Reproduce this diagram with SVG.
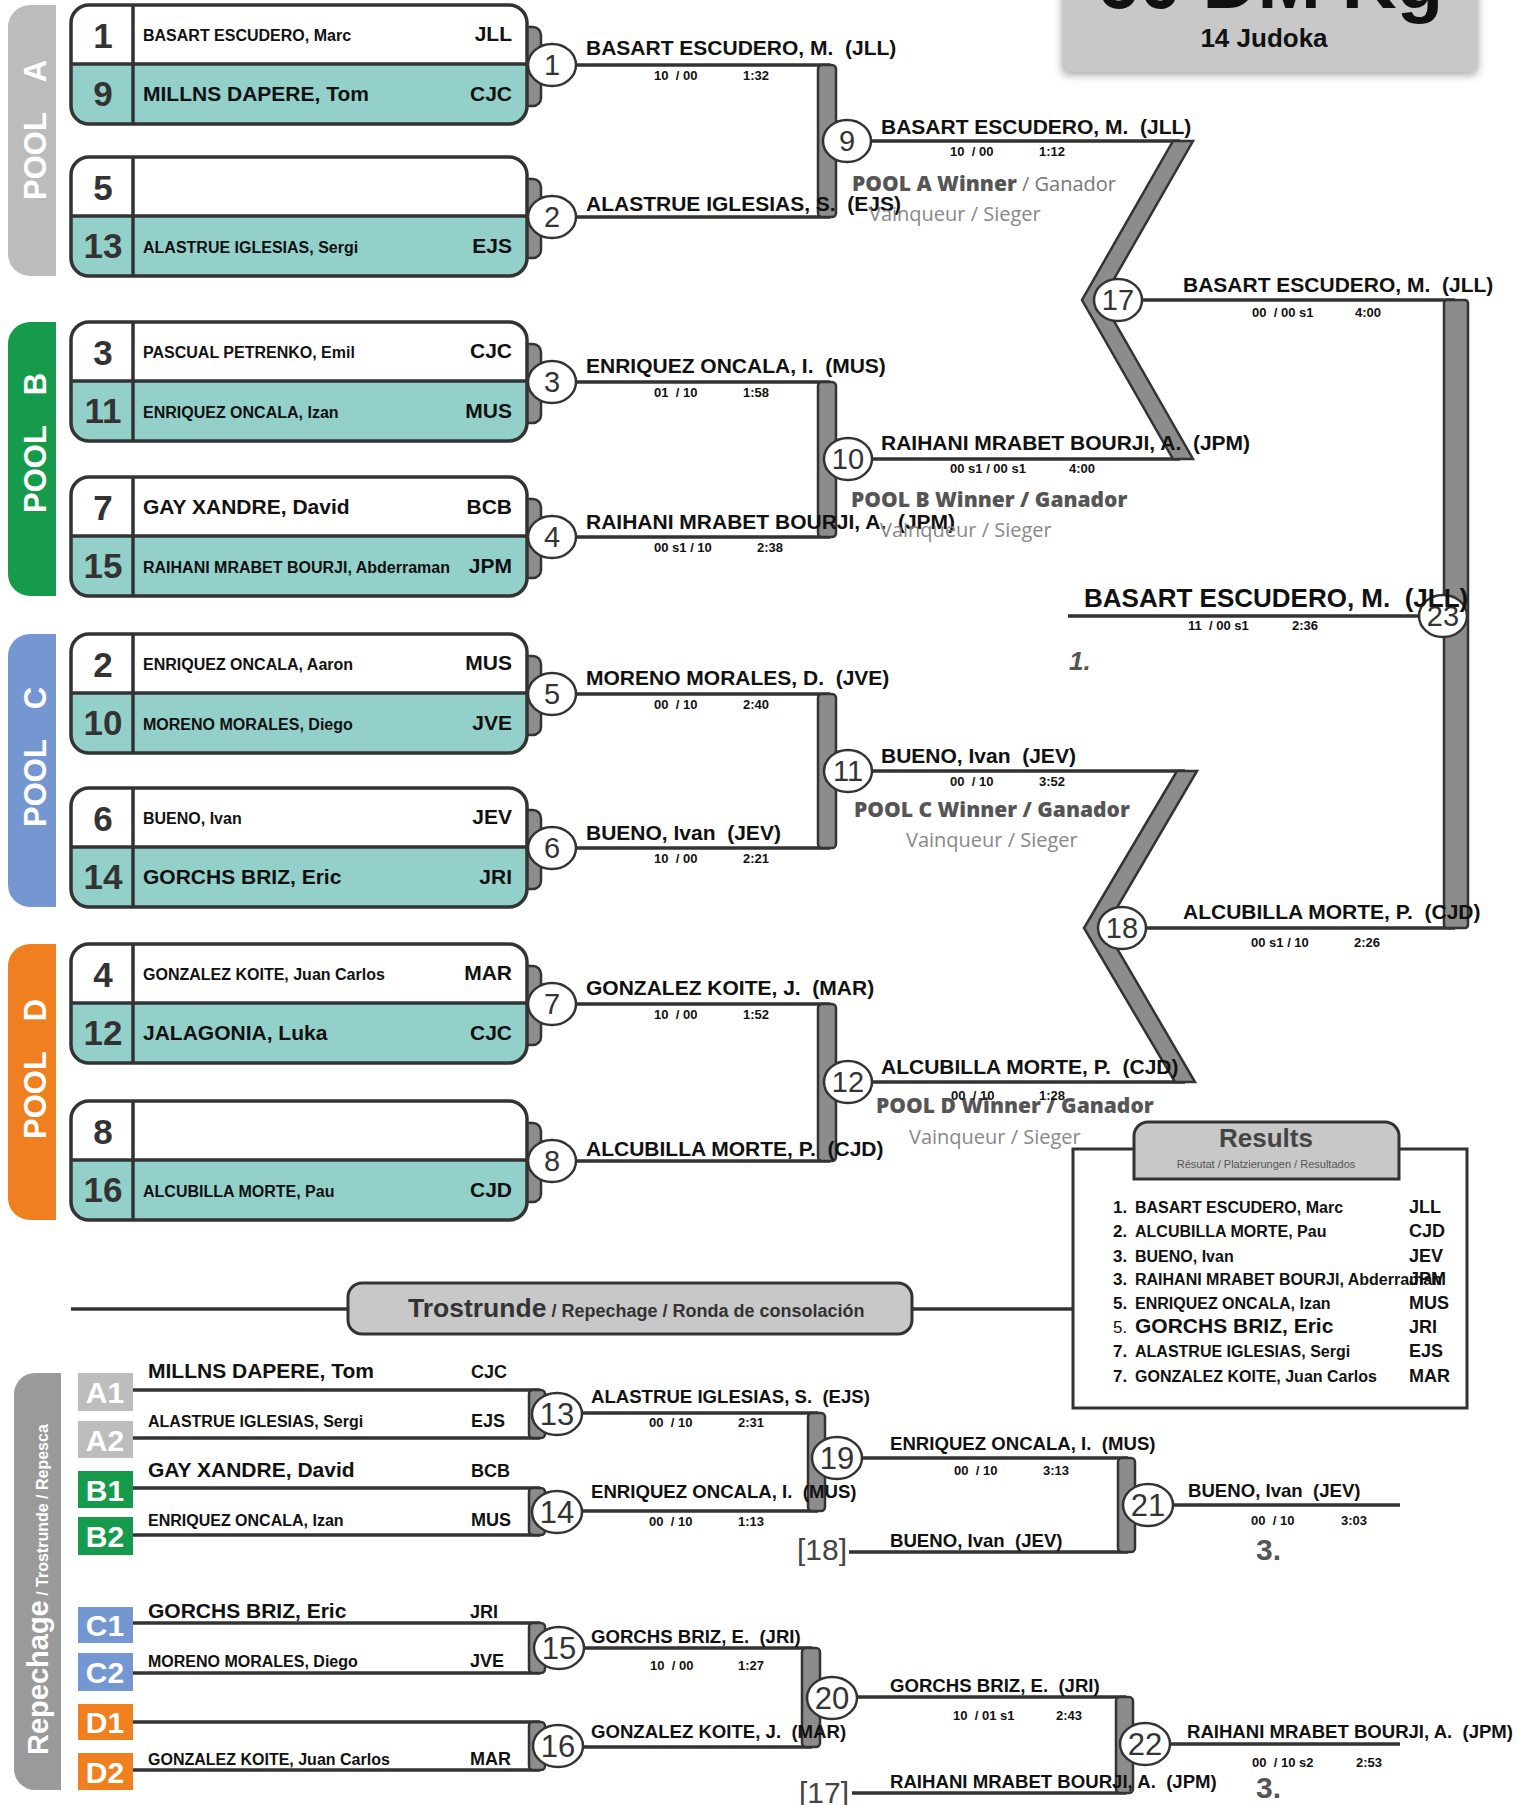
<svg xmlns="http://www.w3.org/2000/svg" width="1519" height="1805" viewBox="0 0 1519 1805" xml:space="preserve">
<defs>
<style>
text{font-family:'Liberation Sans',Arial,Helvetica,sans-serif;white-space:pre;fill:#111}
.seed{font-size:35px;font-weight:700;fill:#333;text-anchor:middle}
.ns{font-size:16px;font-weight:700}
.nl{font-size:21px;font-weight:700}
.cl{font-size:21px;font-weight:700;text-anchor:end}
.w{font-size:21px;font-weight:700}
.wr{font-size:18.6px;font-weight:700}
.sc{font-size:13px;font-weight:700}
.cn{font-size:29px;fill:#333;text-anchor:middle}
.cnr{font-size:31px;fill:#333;text-anchor:middle}
.cir{fill:#fff;stroke:#333;stroke-width:2.5}
.bar{fill:#8c8c8c;stroke:#333;stroke-width:2.5}
.ln{stroke:#333;stroke-width:3.5;fill:none}
.bx{fill:none;stroke:#333;stroke-width:3.5}
.pw{font-family:'Open Sans',sans-serif;font-size:21px;font-weight:800;fill:#555}
.pg{font-family:'Open Sans',sans-serif;font-size:20px;font-weight:400;fill:#777}
.pv{font-family:'Open Sans',sans-serif;font-size:20px;font-weight:400;fill:#888}
.pl{font-size:31px;font-weight:700;fill:#fff}
.lab{font-size:30px;font-weight:700;fill:#fff;text-anchor:middle}
.rn{font-size:16px;font-weight:700}
.rk{font-size:17px;font-weight:700}
.rcl{font-size:18px;font-weight:700}
.plc{font-size:30px;font-weight:700;fill:#555}
.brk{font-size:30px;fill:#444}
</style>
<g id="pbox">
<path class="bar" d="M450,22 H462 A8,8 0 0 1 470,30 V93 A8,8 0 0 1 462,101 H450 Z"/>
<rect x="0" y="0" width="456" height="119" rx="18" fill="#fff"/>
<path d="M0,59 H456 V101 A18,18 0 0 1 438,119 H18 A18,18 0 0 1 0,101 Z" fill="#94d0ca"/>
<rect class="bx" x="0" y="0" width="456" height="119" rx="18"/>
<path class="bx" d="M0,59 H456 M62,0 V119"/>
</g>
<filter id="sh" x="-10%" y="-20%" width="120%" height="150%"><feDropShadow dx="0" dy="3" stdDeviation="4" flood-color="#000" flood-opacity="0.35"/></filter>
</defs>
<rect width="1519" height="1805" fill="#fff"/>

<g id="title">
<rect x="1062" y="-20" width="416" height="92" rx="6" fill="#c8c8c8" filter="url(#sh)"/>
<text x="1270" y="8" style="font-size:76px;font-weight:700;text-anchor:middle">60 DM Kg</text>
<text x="1264" y="47" style="font-size:26px;font-weight:700;text-anchor:middle">14 Judoka</text>
</g>

<g id="pool-labels">
<path fill="#bcbcbc" d="M56,5 H30 A22,22 0 0 0 8,27 V254 A22,22 0 0 0 30,276 H56 Z"/>
<text class="pl" transform="translate(46,200) rotate(-90)">POOL<tspan dx="30">A</tspan></text>
<path fill="#169a4b" d="M56,322 H30 A22,22 0 0 0 8,344 V574 A22,22 0 0 0 30,596 H56 Z"/>
<text class="pl" transform="translate(46,513) rotate(-90)">POOL<tspan dx="30">B</tspan></text>
<path fill="#7597d1" d="M56,634 H30 A22,22 0 0 0 8,656 V885 A22,22 0 0 0 30,907 H56 Z"/>
<text class="pl" transform="translate(46,827) rotate(-90)">POOL<tspan dx="30">C</tspan></text>
<path fill="#ef7f1f" d="M56,944 H30 A22,22 0 0 0 8,966 V1198 A22,22 0 0 0 30,1220 H56 Z"/>
<text class="pl" transform="translate(46,1139) rotate(-90)">POOL<tspan dx="30">D</tspan></text>
</g>

<g id="connectors">
<path class="ln" d="M552,65 H830 M552,217 H830 M552,382 H830 M552,537 H830 M552,694 H830 M552,848 H830 M552,1004 H830 M552,1161 H830"/>
<path class="ln" d="M847,141 H1180 M848,459 H1180 M848,771 H1185 M848,1082 H1185"/>
<path class="ln" d="M1118,300 H1455 M1122,928 H1455 M1068,616 H1443"/>
<path class="ln" d="M71,1309 H1073"/>
<rect class="bar" x="818" y="65" width="18" height="152" rx="4"/>
<rect class="bar" x="818" y="382" width="18" height="155" rx="4"/>
<rect class="bar" x="818" y="694" width="18" height="154" rx="4"/>
<rect class="bar" x="818" y="1004" width="18" height="157" rx="4"/>
<polygon class="bar" points="1173,141 1193,141 1102,300 1193,459 1173,459 1082,300"/>
<polygon class="bar" points="1177,771 1197,771 1105,928 1195,1082 1175,1082 1084,928"/>
<rect class="bar" x="1444" y="300" width="24" height="628" rx="3"/>
<path class="ln" d="M133,1390 H540 M133,1438 H540 M133,1488 H540 M133,1535 H540 M133,1623 H540 M133,1673 H540 M133,1722 H540 M133,1770 H540"/>
<rect class="bar" x="529" y="1390" width="16" height="48" rx="4"/>
<rect class="bar" x="529" y="1488" width="16" height="47" rx="4"/>
<rect class="bar" x="529" y="1623" width="16" height="50" rx="4"/>
<rect class="bar" x="529" y="1722" width="16" height="48" rx="4"/>
<path class="ln" d="M557,1413 H818 M557,1511 H818 M837,1458 H1128 M849,1552 H1128 M1148,1505 H1400"/>
<path class="ln" d="M559,1648 H812 M558,1747 H812 M832,1697 H1126 M852,1793 H1126 M1145,1744 H1400"/>
<rect class="bar" x="808" y="1413" width="17" height="98" rx="4"/>
<rect class="bar" x="1118" y="1458" width="17" height="94" rx="4"/>
<rect class="bar" x="802" y="1648" width="18" height="99" rx="4"/>
<rect class="bar" x="1116" y="1697" width="17" height="96" rx="4"/>
</g>

<g id="box-1-9"><use href="#pbox" x="71" y="5"/><text class="seed" x="103" y="48">1</text><text class="seed" x="103" y="106">9</text><text class="ns" x="143" y="41">BASART ESCUDERO, Marc</text><text class="cl" x="512" y="41">JLL</text><text class="nl" x="143" y="101">MILLNS DAPERE, Tom</text><text class="cl" x="512" y="101">CJC</text></g>
<g id="box-5-13"><use href="#pbox" x="71" y="157"/><text class="seed" x="103" y="200">5</text><text class="seed" x="103" y="258">13</text><text class="ns" x="143" y="253">ALASTRUE IGLESIAS, Sergi</text><text class="cl" x="512" y="253">EJS</text></g>
<g id="box-3-11"><use href="#pbox" x="71" y="322"/><text class="seed" x="103" y="365">3</text><text class="seed" x="103" y="423">11</text><text class="ns" x="143" y="358">PASCUAL PETRENKO, Emil</text><text class="cl" x="512" y="358">CJC</text><text class="ns" x="143" y="418">ENRIQUEZ ONCALA, Izan</text><text class="cl" x="512" y="418">MUS</text></g>
<g id="box-7-15"><use href="#pbox" x="71" y="477"/><text class="seed" x="103" y="520">7</text><text class="seed" x="103" y="578">15</text><text class="nl" x="143" y="514">GAY XANDRE, David</text><text class="cl" x="512" y="514">BCB</text><text class="ns" x="143" y="573">RAIHANI MRABET BOURJI, Abderraman</text><text class="cl" x="512" y="573">JPM</text></g>
<g id="box-2-10"><use href="#pbox" x="71" y="634"/><text class="seed" x="103" y="677">2</text><text class="seed" x="103" y="735">10</text><text class="ns" x="143" y="670">ENRIQUEZ ONCALA, Aaron</text><text class="cl" x="512" y="670">MUS</text><text class="ns" x="143" y="730">MORENO MORALES, Diego</text><text class="cl" x="512" y="730">JVE</text></g>
<g id="box-6-14"><use href="#pbox" x="71" y="788"/><text class="seed" x="103" y="831">6</text><text class="seed" x="103" y="889">14</text><text class="ns" x="143" y="824">BUENO, Ivan</text><text class="cl" x="512" y="824">JEV</text><text class="nl" x="143" y="884">GORCHS BRIZ, Eric</text><text class="cl" x="512" y="884">JRI</text></g>
<g id="box-4-12"><use href="#pbox" x="71" y="944"/><text class="seed" x="103" y="987">4</text><text class="seed" x="103" y="1045">12</text><text class="ns" x="143" y="980">GONZALEZ KOITE, Juan Carlos</text><text class="cl" x="512" y="980">MAR</text><text class="nl" x="143" y="1040">JALAGONIA, Luka</text><text class="cl" x="512" y="1040">CJC</text></g>
<g id="box-8-16"><use href="#pbox" x="71" y="1101"/><text class="seed" x="103" y="1144">8</text><text class="seed" x="103" y="1202">16</text><text class="ns" x="143" y="1197">ALCUBILLA MORTE, Pau</text><text class="cl" x="512" y="1197">CJD</text></g>

<g id="circles">
<ellipse class="cir" cx="552" cy="65" rx="24" ry="21"/><text class="cn" x="552" y="75">1</text>
<ellipse class="cir" cx="552" cy="217" rx="24" ry="21"/><text class="cn" x="552" y="227">2</text>
<ellipse class="cir" cx="552" cy="382" rx="24" ry="21"/><text class="cn" x="552" y="392">3</text>
<ellipse class="cir" cx="552" cy="537" rx="24" ry="21"/><text class="cn" x="552" y="547">4</text>
<ellipse class="cir" cx="552" cy="694" rx="24" ry="21"/><text class="cn" x="552" y="704">5</text>
<ellipse class="cir" cx="552" cy="848" rx="24" ry="21"/><text class="cn" x="552" y="858">6</text>
<ellipse class="cir" cx="552" cy="1004" rx="24" ry="21"/><text class="cn" x="552" y="1014">7</text>
<ellipse class="cir" cx="552" cy="1161" rx="24" ry="21"/><text class="cn" x="552" y="1171">8</text>
<ellipse class="cir" cx="847" cy="141" rx="24" ry="21"/><text class="cn" x="847" y="151">9</text>
<ellipse class="cir" cx="848" cy="459" rx="24" ry="21"/><text class="cn" x="848" y="469">10</text>
<ellipse class="cir" cx="848" cy="771" rx="24" ry="21"/><text class="cn" x="848" y="781">11</text>
<ellipse class="cir" cx="848" cy="1082" rx="24" ry="21"/><text class="cn" x="848" y="1092">12</text>
<ellipse class="cir" cx="1118" cy="300" rx="24" ry="21"/><text class="cn" x="1118" y="310">17</text>
<ellipse class="cir" cx="1122" cy="928" rx="24" ry="21"/><text class="cn" x="1122" y="938">18</text>
<ellipse class="cir" cx="1443" cy="616" rx="24" ry="21"/><text class="cn" x="1443" y="626">23</text>
<ellipse class="cir" cx="557" cy="1414" rx="25" ry="21"/><text class="cnr" x="557" y="1425">13</text>
<ellipse class="cir" cx="557" cy="1512" rx="25" ry="21"/><text class="cnr" x="557" y="1523">14</text>
<ellipse class="cir" cx="559" cy="1648" rx="25" ry="21"/><text class="cnr" x="559" y="1659">15</text>
<ellipse class="cir" cx="558" cy="1746" rx="25" ry="21"/><text class="cnr" x="558" y="1757">16</text>
<ellipse class="cir" cx="837" cy="1458" rx="25" ry="21"/><text class="cnr" x="837" y="1469">19</text>
<ellipse class="cir" cx="832" cy="1698" rx="25" ry="21"/><text class="cnr" x="832" y="1709">20</text>
<ellipse class="cir" cx="1148" cy="1505" rx="25" ry="21"/><text class="cnr" x="1148" y="1516">21</text>
<ellipse class="cir" cx="1145" cy="1744" rx="25" ry="21"/><text class="cnr" x="1145" y="1755">22</text>
</g>

<g id="match-labels">
<text class="w" x="586" y="55">BASART ESCUDERO, M.  (JLL)</text><text class="sc" x="654" y="80">10  / 00</text><text class="sc" x="743" y="80">1:32</text>
<text class="w" x="586" y="211">ALASTRUE IGLESIAS, S.  (EJS)</text>
<text class="w" x="586" y="373">ENRIQUEZ ONCALA, I.  (MUS)</text><text class="sc" x="654" y="397">01  / 10</text><text class="sc" x="743" y="397">1:58</text>
<text class="w" x="586" y="529">RAIHANI MRABET BOURJI, A.  (JPM)</text><text class="sc" x="654" y="552">00 s1 / 10</text><text class="sc" x="757" y="552">2:38</text>
<text class="w" x="586" y="685">MORENO MORALES, D.  (JVE)</text><text class="sc" x="654" y="709">00  / 10</text><text class="sc" x="743" y="709">2:40</text>
<text class="w" x="586" y="840">BUENO, Ivan  (JEV)</text><text class="sc" x="654" y="863">10  / 00</text><text class="sc" x="743" y="863">2:21</text>
<text class="w" x="586" y="995">GONZALEZ KOITE, J.  (MAR)</text><text class="sc" x="654" y="1019">10  / 00</text><text class="sc" x="743" y="1019">1:52</text>
<text class="w" x="586" y="1156">ALCUBILLA MORTE, P.  (CJD)</text>

<text class="w" x="881" y="134">BASART ESCUDERO, M.  (JLL)</text><text class="sc" x="950" y="156">10  / 00</text><text class="sc" x="1039" y="156">1:12</text>
<text class="w" x="881" y="450">RAIHANI MRABET BOURJI, A.  (JPM)</text><text class="sc" x="950" y="473">00 s1 / 00 s1</text><text class="sc" x="1069" y="473">4:00</text>
<text class="w" x="881" y="763">BUENO, Ivan  (JEV)</text><text class="sc" x="950" y="786">00  / 10</text><text class="sc" x="1039" y="786">3:52</text>
<text class="w" x="881" y="1074">ALCUBILLA MORTE, P.  (CJD)</text>

<text class="w" x="1183" y="292">BASART ESCUDERO, M.  (JLL)</text><text class="sc" x="1252" y="317">00  / 00 s1</text><text class="sc" x="1355" y="317">4:00</text>
<text class="w" x="1183" y="919">ALCUBILLA MORTE, P.  (CJD)</text><text class="sc" x="1251" y="947">00 s1 / 10</text><text class="sc" x="1354" y="947">2:26</text>
<text x="1084" y="607" style="font-size:26px;font-weight:700">BASART ESCUDERO, M.  (JLL)</text><text class="sc" x="1188" y="630">11  / 00 s1</text><text class="sc" x="1292" y="630">2:36</text>
<text x="1069" y="670" style="font-size:26px;font-weight:700;font-style:italic;fill:#555">1.</text>
</g>

<g id="pool-winners">
<text class="pw" x="852" y="191">POOL A Winner<tspan class="pg"> / Ganador</tspan></text>
<text class="pv" x="869" y="221">Vainqueur / Sieger</text>
<text class="pw" x="851" y="507">POOL B Winner / Ganador</text>
<text class="pv" x="880" y="537">Vainqueur / Sieger</text>
<text class="pw" x="854" y="817">POOL C Winner / Ganador</text>
<text class="pv" x="906" y="847">Vainqueur / Sieger</text>
<text class="pw" x="876" y="1113">POOL D Winner / Ganador</text>
<text class="pv" x="909" y="1144">Vainqueur / Sieger</text>
</g>

<g id="round-2-scores-d">
<text class="sc" x="951" y="1100">00  / 10</text><text class="sc" x="1039" y="1100">1:28</text>
</g>

<g id="results">
<rect x="1073" y="1149" width="394" height="259" fill="#fff" stroke="#333" stroke-width="3"/>
<path d="M1134,1179 V1136 A14,14 0 0 1 1148,1122 H1385 A14,14 0 0 1 1399,1136 V1179 Z" fill="#c8c8c8" stroke="#333" stroke-width="3"/>
<text x="1266" y="1147" style="font-size:26px;font-weight:700;fill:#444;text-anchor:middle">Results</text>
<text x="1266" y="1168" style="font-size:11px;fill:#555;text-anchor:middle">Résutat / Platzierungen / Resultados</text>
<text class="rk" x="1113" y="1213">1.</text><text class="rn" x="1135" y="1213">BASART ESCUDERO, Marc</text><text class="rcl" x="1409" y="1213">JLL</text>
<text class="rk" x="1113" y="1237">2.</text><text class="rn" x="1135" y="1237">ALCUBILLA MORTE, Pau</text><text class="rcl" x="1409" y="1237">CJD</text>
<text class="rk" x="1113" y="1262">3.</text><text class="rn" x="1135" y="1262">BUENO, Ivan</text><text class="rcl" x="1409" y="1262">JEV</text>
<text class="rk" x="1113" y="1285">3.</text><text class="rn" x="1135" y="1285">RAIHANI MRABET BOURJI, Abderraman</text><text class="rcl" x="1409" y="1285">JPM</text>
<text class="rk" x="1113" y="1309">5.</text><text class="rn" x="1135" y="1309">ENRIQUEZ ONCALA, Izan</text><text class="rcl" x="1409" y="1309">MUS</text>
<text x="1113" y="1333" style="font-size:17px">5.</text><text x="1135" y="1333" style="font-size:21px;font-weight:700">GORCHS BRIZ, Eric</text><text class="rcl" x="1409" y="1333">JRI</text>
<text class="rk" x="1113" y="1357">7.</text><text class="rn" x="1135" y="1357">ALASTRUE IGLESIAS, Sergi</text><text class="rcl" x="1409" y="1357">EJS</text>
<text class="rk" x="1113" y="1382">7.</text><text class="rn" x="1135" y="1382">GONZALEZ KOITE, Juan Carlos</text><text class="rcl" x="1409" y="1382">MAR</text>
</g>

<g id="trostrunde">
<rect x="348" y="1283" width="564" height="51" rx="14" fill="#c8c8c8" stroke="#333" stroke-width="3"/>
<text x="408" y="1317" style="font-size:26.5px;font-weight:700;fill:#333">Trostrunde<tspan style="font-size:18px"> / Repechage / Ronda de consolación</tspan></text>
</g>

<g id="repechage-label">
<path fill="#9a9a9a" d="M61,1373 H35 A21,21 0 0 0 14,1394 V1769 A21,21 0 0 0 35,1790 H61 Z"/>
<text transform="translate(48,1755) rotate(-90)" style="font-size:29px;font-weight:700;fill:#fff">Repechage<tspan style="font-size:16px"> / Trostrunde / Repesca</tspan></text>
</g>

<g id="rep-slots">
<rect x="78" y="1373" width="55" height="38" fill="#bdbdbd"/><text class="lab" x="105" y="1403">A1</text>
<rect x="78" y="1421" width="55" height="37" fill="#bdbdbd"/><text class="lab" x="105" y="1451">A2</text>
<rect x="78" y="1471" width="55" height="37" fill="#169a4b"/><text class="lab" x="105" y="1501">B1</text>
<rect x="78" y="1517" width="55" height="38" fill="#169a4b"/><text class="lab" x="105" y="1547">B2</text>
<rect x="78" y="1607" width="55" height="36" fill="#7597d1"/><text class="lab" x="105" y="1636">C1</text>
<rect x="78" y="1653" width="55" height="38" fill="#7597d1"/><text class="lab" x="105" y="1683">C2</text>
<rect x="78" y="1704" width="55" height="36" fill="#ef7f1f"/><text class="lab" x="105" y="1733">D1</text>
<rect x="78" y="1753" width="55" height="37" fill="#ef7f1f"/><text class="lab" x="105" y="1783">D2</text>
<text class="nl" x="148" y="1378">MILLNS DAPERE, Tom</text><text class="rcl" x="471" y="1378">CJC</text>
<text class="ns" x="148" y="1427">ALASTRUE IGLESIAS, Sergi</text><text class="rcl" x="471" y="1427">EJS</text>
<text class="nl" x="148" y="1477">GAY XANDRE, David</text><text class="rcl" x="471" y="1477">BCB</text>
<text class="ns" x="148" y="1526">ENRIQUEZ ONCALA, Izan</text><text class="rcl" x="471" y="1526">MUS</text>
<text class="nl" x="148" y="1618">GORCHS BRIZ, Eric</text><text class="rcl" x="470" y="1618">JRI</text>
<text class="ns" x="148" y="1667">MORENO MORALES, Diego</text><text class="rcl" x="470" y="1667">JVE</text>
<text class="ns" x="148" y="1765">GONZALEZ KOITE, Juan Carlos</text><text class="rcl" x="470" y="1765">MAR</text>
</g>

<g id="rep-labels">
<text class="wr" x="591" y="1403">ALASTRUE IGLESIAS, S.  (EJS)</text><text class="sc" x="649" y="1427">00  / 10</text><text class="sc" x="738" y="1427">2:31</text>
<text class="wr" x="591" y="1498">ENRIQUEZ ONCALA, I.  (MUS)</text><text class="sc" x="649" y="1526">00  / 10</text><text class="sc" x="738" y="1526">1:13</text>
<text class="wr" x="591" y="1643">GORCHS BRIZ, E.  (JRI)</text><text class="sc" x="650" y="1670">10  / 00</text><text class="sc" x="738" y="1670">1:27</text>
<text class="wr" x="591" y="1738">GONZALEZ KOITE, J.  (MAR)</text>
<text class="wr" x="890" y="1450">ENRIQUEZ ONCALA, I.  (MUS)</text><text class="sc" x="954" y="1475">00  / 10</text><text class="sc" x="1043" y="1475">3:13</text>
<text class="brk" x="797" y="1560">[18]</text><text class="wr" x="890" y="1547">BUENO, Ivan  (JEV)</text>
<text class="wr" x="890" y="1692">GORCHS BRIZ, E.  (JRI)</text><text class="sc" x="953" y="1720">10  / 01 s1</text><text class="sc" x="1056" y="1720">2:43</text>
<text class="brk" x="799" y="1803">[17]</text><text class="wr" x="890" y="1788">RAIHANI MRABET BOURJI, A.  (JPM)</text>
<text class="wr" x="1188" y="1497">BUENO, Ivan  (JEV)</text><text class="sc" x="1251" y="1525">00  / 10</text><text class="sc" x="1341" y="1525">3:03</text>
<text class="wr" x="1187" y="1738" textLength="326" lengthAdjust="spacingAndGlyphs">RAIHANI MRABET BOURJI, A.  (JPM)</text><text class="sc" x="1252" y="1767">00  / 10 s2</text><text class="sc" x="1356" y="1767">2:53</text>
<text class="plc" x="1256" y="1560">3.</text>
<text class="plc" x="1256" y="1798">3.</text>
</g>
</svg>
